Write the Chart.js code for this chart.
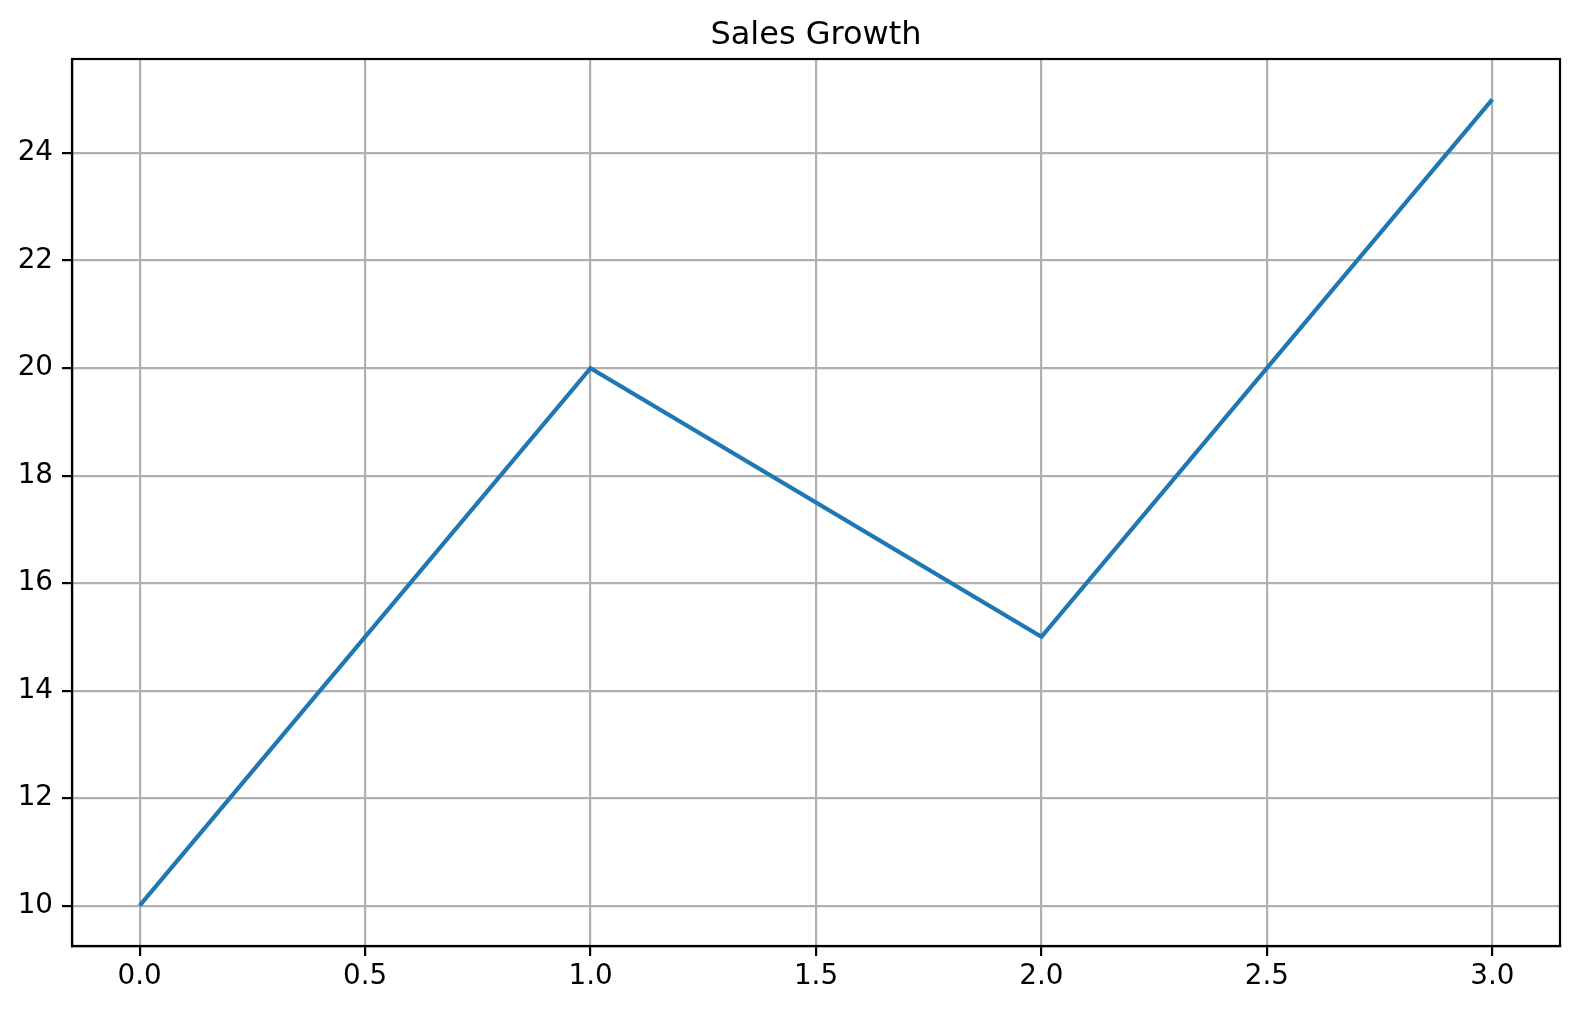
<!DOCTYPE html>
<html>
<head>
<meta charset="utf-8">
<script src="https://cdn.jsdelivr.net/npm/chart.js@4"></script>
<style>
  html, body { margin: 0; padding: 0; background: #ffffff; }
  #wrap { width: 1579px; height: 1010px; }
</style>
</head>
<body>
<div id="wrap"><canvas id="c" width="1579" height="1010"></canvas></div>
<script>
const xValues = [0, 1, 2, 3];
const salesValues = [10, 20, 15, 25];
const xTickValues = [0, 0.5, 1.0, 1.5, 2.0, 2.5, 3.0];
const yTickValues = [10, 12, 14, 16, 18, 20, 22, 24];
const titleText = 'Sales Growth';

const FONT = "'DejaVu Sans', sans-serif";

const frame = {
  id: 'frame',
  afterDatasetsDraw(chart) {
    const a = chart.chartArea, ctx = chart.ctx;
    ctx.save();
    ctx.strokeStyle = '#000000';
    ctx.lineWidth = 2.2;
    ctx.strokeRect(a.left, a.top, a.right - a.left, a.bottom - a.top);
    ctx.restore();
  },
  afterDraw(chart) {
    const a = chart.chartArea, ctx = chart.ctx;
    ctx.save();
    ctx.fillStyle = '#000000';
    ctx.font = "32px " + FONT;
    ctx.textAlign = 'center';
    ctx.textBaseline = 'alphabetic';
    ctx.fillText(titleText, (a.left + a.right) / 2, 44);
    ctx.restore();
  }
};

new Chart(document.getElementById('c'), {
  type: 'line',
  data: {
    datasets: [{
      label: titleText,
      data: xValues.map((x, i) => ({ x: x, y: salesValues[i] })),
      borderColor: '#1f77b4',
      borderWidth: 4.2,
      pointRadius: 0,
      tension: 0,
      fill: false,
      clip: false
    }]
  },
  options: {
    responsive: false,
    animation: false,
    devicePixelRatio: 1,
    layout: { padding: { left: 0, right: 19, top: 59, bottom: 0 } },
    plugins: {
      legend: { display: false },
      tooltip: { enabled: false },
      title: { display: false }
    },
    scales: {
      x: {
        type: 'linear',
        min: -0.15,
        max: 3.15,
        afterBuildTicks(s) { s.ticks = xTickValues.map(v => ({ value: v })); },
        afterFit(s) { s.height = 64; },
        grid: { color: '#b0b0b0', lineWidth: 2.2, tickLength: 10, tickColor: '#000000', tickWidth: 2.2 },
        border: { display: true, color: '#000000', width: 2.2 },
        ticks: {
          color: '#000000',
          font: { family: FONT, size: 27.8 },
          padding: 4,
          maxRotation: 0,
          autoSkip: false,
          callback: v => Number(v).toFixed(1)
        }
      },
      y: {
        type: 'linear',
        min: 9.25,
        max: 25.75,
        afterBuildTicks(s) { s.ticks = yTickValues.map(v => ({ value: v })); },
        afterFit(s) { s.width = 72; },
        grid: { color: '#b0b0b0', lineWidth: 2.2, tickLength: 10, tickColor: '#000000', tickWidth: 2.2 },
        border: { display: true, color: '#000000', width: 2.2 },
        ticks: {
          color: '#000000',
          font: { family: FONT, size: 27.8 },
          padding: 9,
          autoSkip: false,
          callback: v => String(v)
        }
      }
    }
  },
  plugins: [frame]
});
</script>
</body>
</html>
